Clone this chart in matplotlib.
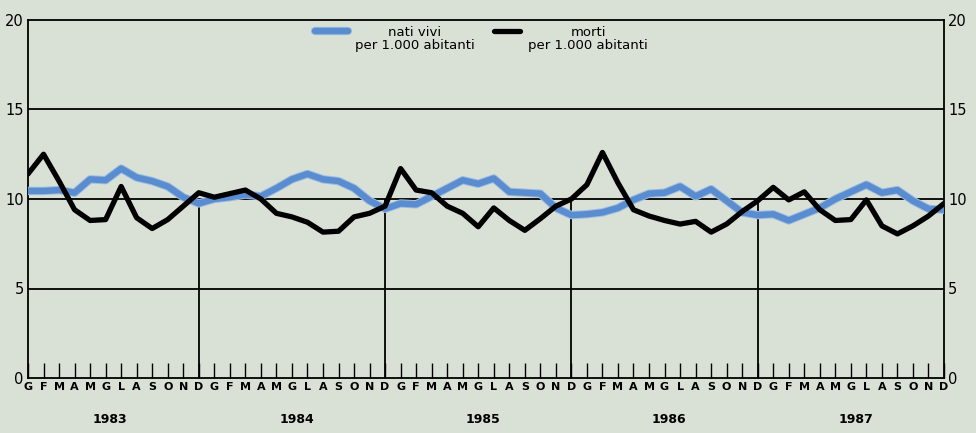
import matplotlib
matplotlib.use("Agg")
import matplotlib.pyplot as plt
from matplotlib.lines import Line2D
import matplotlib.transforms as mtransforms
import matplotlib.patheffects as pe

# ---- data ----
years = ["1983", "1984", "1985", "1986", "1987"]
month_labels = ["G", "F", "M", "A", "M", "G", "L", "A", "S", "O", "N", "D"]

nati_vivi = [
    10.45, 10.45, 10.5, 10.35, 11.1, 11.05, 11.7, 11.2, 11.0, 10.7, 10.1, 9.75,
    10.0, 10.1, 10.25, 10.15, 10.6, 11.1, 11.4, 11.1, 11.0, 10.6, 9.9, 9.45,
    9.75, 9.7, 10.15, 10.6, 11.05, 10.85, 11.15, 10.4, 10.35, 10.3, 9.5, 9.1,
    9.15, 9.25, 9.5, 9.95, 10.3, 10.35, 10.7, 10.15, 10.55, 9.9, 9.25, 9.1,
    9.15, 8.8, 9.15, 9.5, 10.0, 10.4, 10.8, 10.35, 10.5, 9.9, 9.45, 9.4,
]
morti = [
    11.4, 12.5, 11.0, 9.4, 8.8, 8.85, 10.7, 8.95, 8.35, 8.85, 9.6, 10.35,
    10.1, 10.3, 10.5, 10.0, 9.2, 9.0, 8.7, 8.15, 8.2, 9.0, 9.2, 9.6,
    11.7, 10.5, 10.35, 9.6, 9.2, 8.45, 9.5, 8.8, 8.25, 8.9, 9.6, 10.0,
    10.8, 12.6, 10.9, 9.4, 9.05, 8.8, 8.6, 8.75, 8.15, 8.6, 9.3, 9.9,
    10.65, 9.95, 10.4, 9.4, 8.8, 8.85, 9.95, 8.5, 8.05, 8.5, 9.05, 9.75,
]
y_ticks = [0, 5, 10, 15, 20]
legend_labels = ["nati vivi\nper 1.000 abitanti", "morti\nper 1.000 abitanti"]

bg = "#d9e0d6"
blue = "#5a8dcf"
halo = [pe.Stroke(linewidth=6.0, foreground="#9dbde3"), pe.Normal()]

W, H = 976, 433
fig = plt.figure(figsize=(W / 100, H / 100), dpi=100, facecolor=bg)
ax = fig.add_axes([28 / W, 1 - 378 / H, (944 - 28) / W, (378 - 20) / H])
ax.set_facecolor(bg)

n = len(nati_vivi)
x = list(range(n))

ax.set_xlim(0, n - 1)
ax.set_ylim(0, 20)

# grid lines
for yv in [5, 10, 15]:
    ax.axhline(yv, color="black", lw=1.3, zorder=1)
# December verticals (up to 10)
dec_idx = [12 * k + 11 for k in range(len(years) - 1)]
ax.vlines(dec_idx, 0, 10, color="black", lw=1.3, zorder=1)

for s in ["left", "right", "top", "bottom"]:
    ax.spines[s].set_color("black")
    ax.spines[s].set_linewidth(1.3)

# series
ax.plot(x, nati_vivi, color=blue, lw=4.6, solid_joinstyle="round",
        solid_capstyle="round", zorder=3, path_effects=halo)
ax.plot(x, morti, color="black", lw=3.8, solid_joinstyle="round",
        solid_capstyle="round", zorder=4)

# x ticks
ax.set_xticks(x)
ax.set_xticklabels([month_labels[i % 12] for i in x], fontsize=8,
                   fontweight="bold", family="DejaVu Sans")
ax.tick_params(axis="x", direction="in", length=11, width=1.0, pad=3,
               color="black")

# y ticks both sides
ax.set_yticks(y_ticks)
ax.set_yticklabels([str(v) for v in y_ticks], fontsize=10.5)
ax.tick_params(axis="y", length=0, pad=3, labelright=True, right=False)

# year labels
trans = mtransforms.blended_transform_factory(ax.transData, ax.transAxes)
for k, yr in enumerate(years):
    ax.text(12 * k + 5.3, -0.115, yr, transform=trans, ha="center",
            va="center", fontsize=9, fontweight="bold")

# legend (manual)
fig.add_artist(Line2D([315 / W, 348 / W], [1 - 31 / H, 1 - 31 / H],
                      color=blue, lw=4.6, solid_capstyle="round",
                      path_effects=halo))
fig.text(415 / W, 1 - 39 / H, legend_labels[0], ha="center", va="center",
         fontsize=9.5, linespacing=1.0)
fig.add_artist(Line2D([494 / W, 520 / W], [1 - 31 / H, 1 - 31 / H],
                      color="black", lw=3.8, solid_capstyle="round"))
fig.text(588 / W, 1 - 39 / H, legend_labels[1], ha="center", va="center",
         fontsize=9.5, linespacing=1.0)

fig.savefig("out.png", dpi=100, facecolor=bg)
